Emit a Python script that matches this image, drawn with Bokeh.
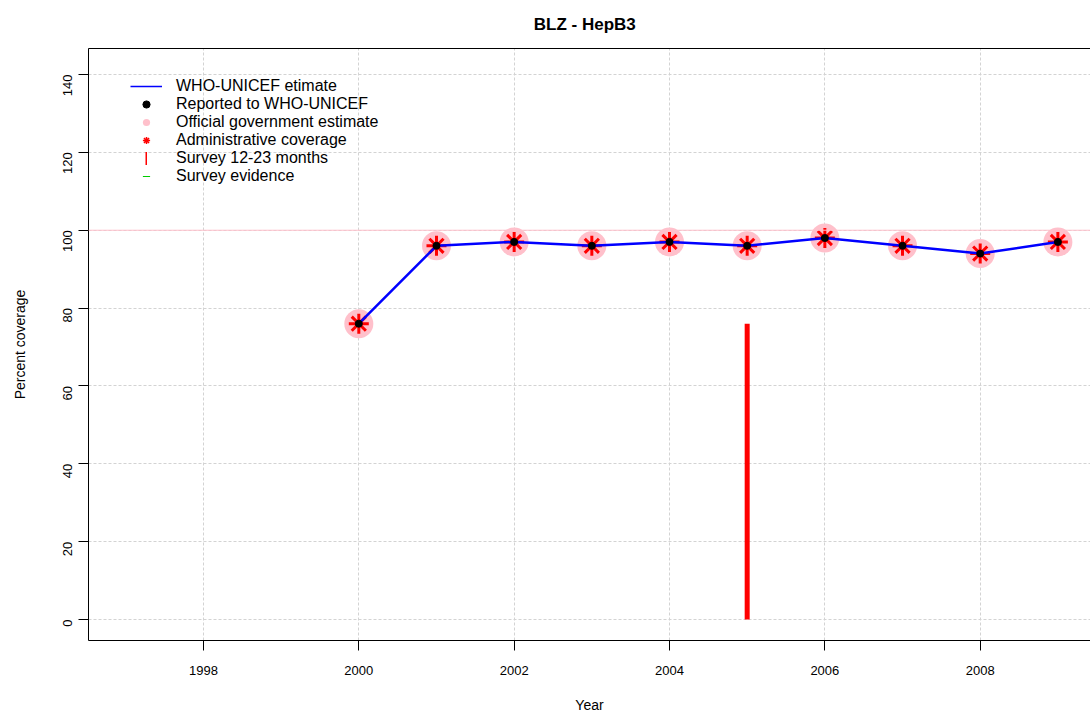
import math
from bokeh.plotting import figure
from bokeh.models import (ColumnDataSource, Span, Legend, LegendItem, LinearAxis,
                          FixedTicker, Range1d)
from bokeh.embed import file_html
from bokeh.resources import INLINE

# ---- data ----
years = [2000, 2001, 2002, 2003, 2004, 2005, 2006, 2007, 2008, 2009]
who_unicef_estimate = [76, 96, 97, 96, 97, 96, 98, 96, 94, 97]
reported = [76, 96, 97, 96, 97, 96, 98, 96, 94, 97]
official_estimate = [76, 96, 97, 96, 97, 96, 98, 96, 94, 97]
admin_coverage = [76, 96, 97, 96, 97, 96, 98, 96, 94, 97]
survey_years = [2005]
survey_values = [76]
x_ticks = [1998, 2000, 2002, 2004, 2006, 2008]
y_ticks = [0, 20, 40, 60, 80, 100, 120, 140]
title_text = "BLZ  -  HepB3"

src = ColumnDataSource(dict(year=years, est=who_unicef_estimate, rep=reported,
                            off=official_estimate, adm=admin_coverage))
svy = ColumnDataSource(dict(year=survey_years, top=survey_values,
                            bottom=[0] * len(survey_years)))
nan = float("nan")

FONT = "Liberation Sans"

p = figure(width=1090, height=716, output_backend="svg", toolbar_location=None,
           x_range=Range1d(1996.52, 2009.42), y_range=Range1d(-5.39, 146.68),
           min_border_left=88, min_border_right=0, min_border_top=48,
           min_border_bottom=76, x_axis_location=None, y_axis_location=None)
p.outline_line_color = None
p.background_fill_color = "white"

# title
p.title.text = title_text
p.title.align = "center"
p.title.vertical_align = "top"
p.title.text_font = FONT
p.title.text_font_size = "17px"
p.title.text_font_style = "bold"
p.title.text_color = "black"
p.title.standoff = 26

# axes
xax = LinearAxis(ticker=FixedTicker(ticks=x_ticks), axis_label="Year")
yax = LinearAxis(ticker=FixedTicker(ticks=y_ticks), axis_label="Percent coverage")
for ax in (xax, yax):
    ax.axis_line_color = "black"
    ax.axis_line_width = 1
    ax.major_tick_line_color = "black"
    ax.major_tick_out = 10
    ax.major_tick_in = 0
    ax.minor_tick_line_color = None
    ax.major_label_text_font = FONT
    ax.major_label_text_font_size = "13px"
    ax.major_label_text_color = "black"
    ax.axis_label_text_font = FONT
    ax.axis_label_text_font_size = "14px"
    ax.axis_label_text_font_style = "normal"
    ax.axis_label_text_color = "black"
yax.major_label_orientation = math.pi / 2
yax.major_label_standoff = 11
yax.axis_label_standoff = 28
xax.major_label_standoff = 15
xax.axis_label_standoff = 19
p.add_layout(xax, "below")
p.add_layout(yax, "left")

top = LinearAxis(ticker=FixedTicker(ticks=[]))
top.axis_line_color = "black"
top.major_tick_line_color = None
top.minor_tick_line_color = None
top.major_label_text_font_size = "0px"
top.major_tick_out = 0
top.major_tick_in = 0
p.add_layout(top, "above")

# grid
p.xgrid.ticker = FixedTicker(ticks=x_ticks)
p.ygrid.ticker = FixedTicker(ticks=y_ticks)
for g in (p.xgrid, p.ygrid):
    g.grid_line_color = "#D3D3D3"
    g.grid_line_dash = "3 2"
    g.grid_line_width = 1

p.add_layout(Span(location=100, dimension="width", line_color="pink", line_width=1))

# data glyphs
p.scatter("year", "off", source=src, size=29, color="pink", line_color=None)
p.scatter("year", "adm", source=src, marker="asterisk", size=20,
          line_color="red", line_width=3)
p.line("year", "est", source=src, line_color="blue", line_width=2.5)
p.scatter("year", "rep", source=src, size=7, color="black")
p.segment(x0="year", y0="bottom", x1="year", y1="top", source=svy,
          line_color="red", line_width=5)

# legend key glyphs (not drawn in the plot area)
l1 = p.line([nan, nan], [nan, nan], line_color="blue", line_width=1.5)
l2 = p.scatter([nan], [nan], size=6, color="black")
l3 = p.scatter([nan], [nan], size=8, color="pink", line_color=None)
l4 = p.scatter([nan], [nan], marker="asterisk", size=7, line_color="red", line_width=1.5)
l5 = p.line([nan, nan], [nan, nan], line_color="red", line_width=13, line_cap="butt")
l6 = p.scatter([nan], [nan], marker="dash", size=5, line_color="#00CC00", line_width=1)


def make_legend(items, loc, gw, standoff):
    lg = Legend(items=items, location=loc)
    lg.border_line_color = None
    lg.background_fill_alpha = 0
    lg.label_text_font = FONT
    lg.label_text_font_size = "16px"
    lg.label_text_color = "black"
    lg.glyph_width = gw
    lg.glyph_height = 18
    lg.label_height = 18
    lg.spacing = 0
    lg.padding = 0
    lg.margin = 0
    lg.label_standoff = standoff
    p.add_layout(lg, "center")
    return lg


base_y = 455
make_legend([
    LegendItem(label="WHO-UNICEF etimate", renderers=[l1]),
    LegendItem(label="Reported to WHO-UNICEF", renderers=[l2]),
    LegendItem(label="Official government estimate", renderers=[l3]),
    LegendItem(label="Administrative coverage", renderers=[l4]),
], (42, base_y + 36), 32, 14)
make_legend([LegendItem(label="Survey 12-23 months", renderers=[l5])],
            (57, base_y + 18), 2, 29)
make_legend([LegendItem(label="Survey evidence", renderers=[l6])],
            (42, base_y), 32, 14)

open("out.html", "w").write(file_html(p, INLINE))
